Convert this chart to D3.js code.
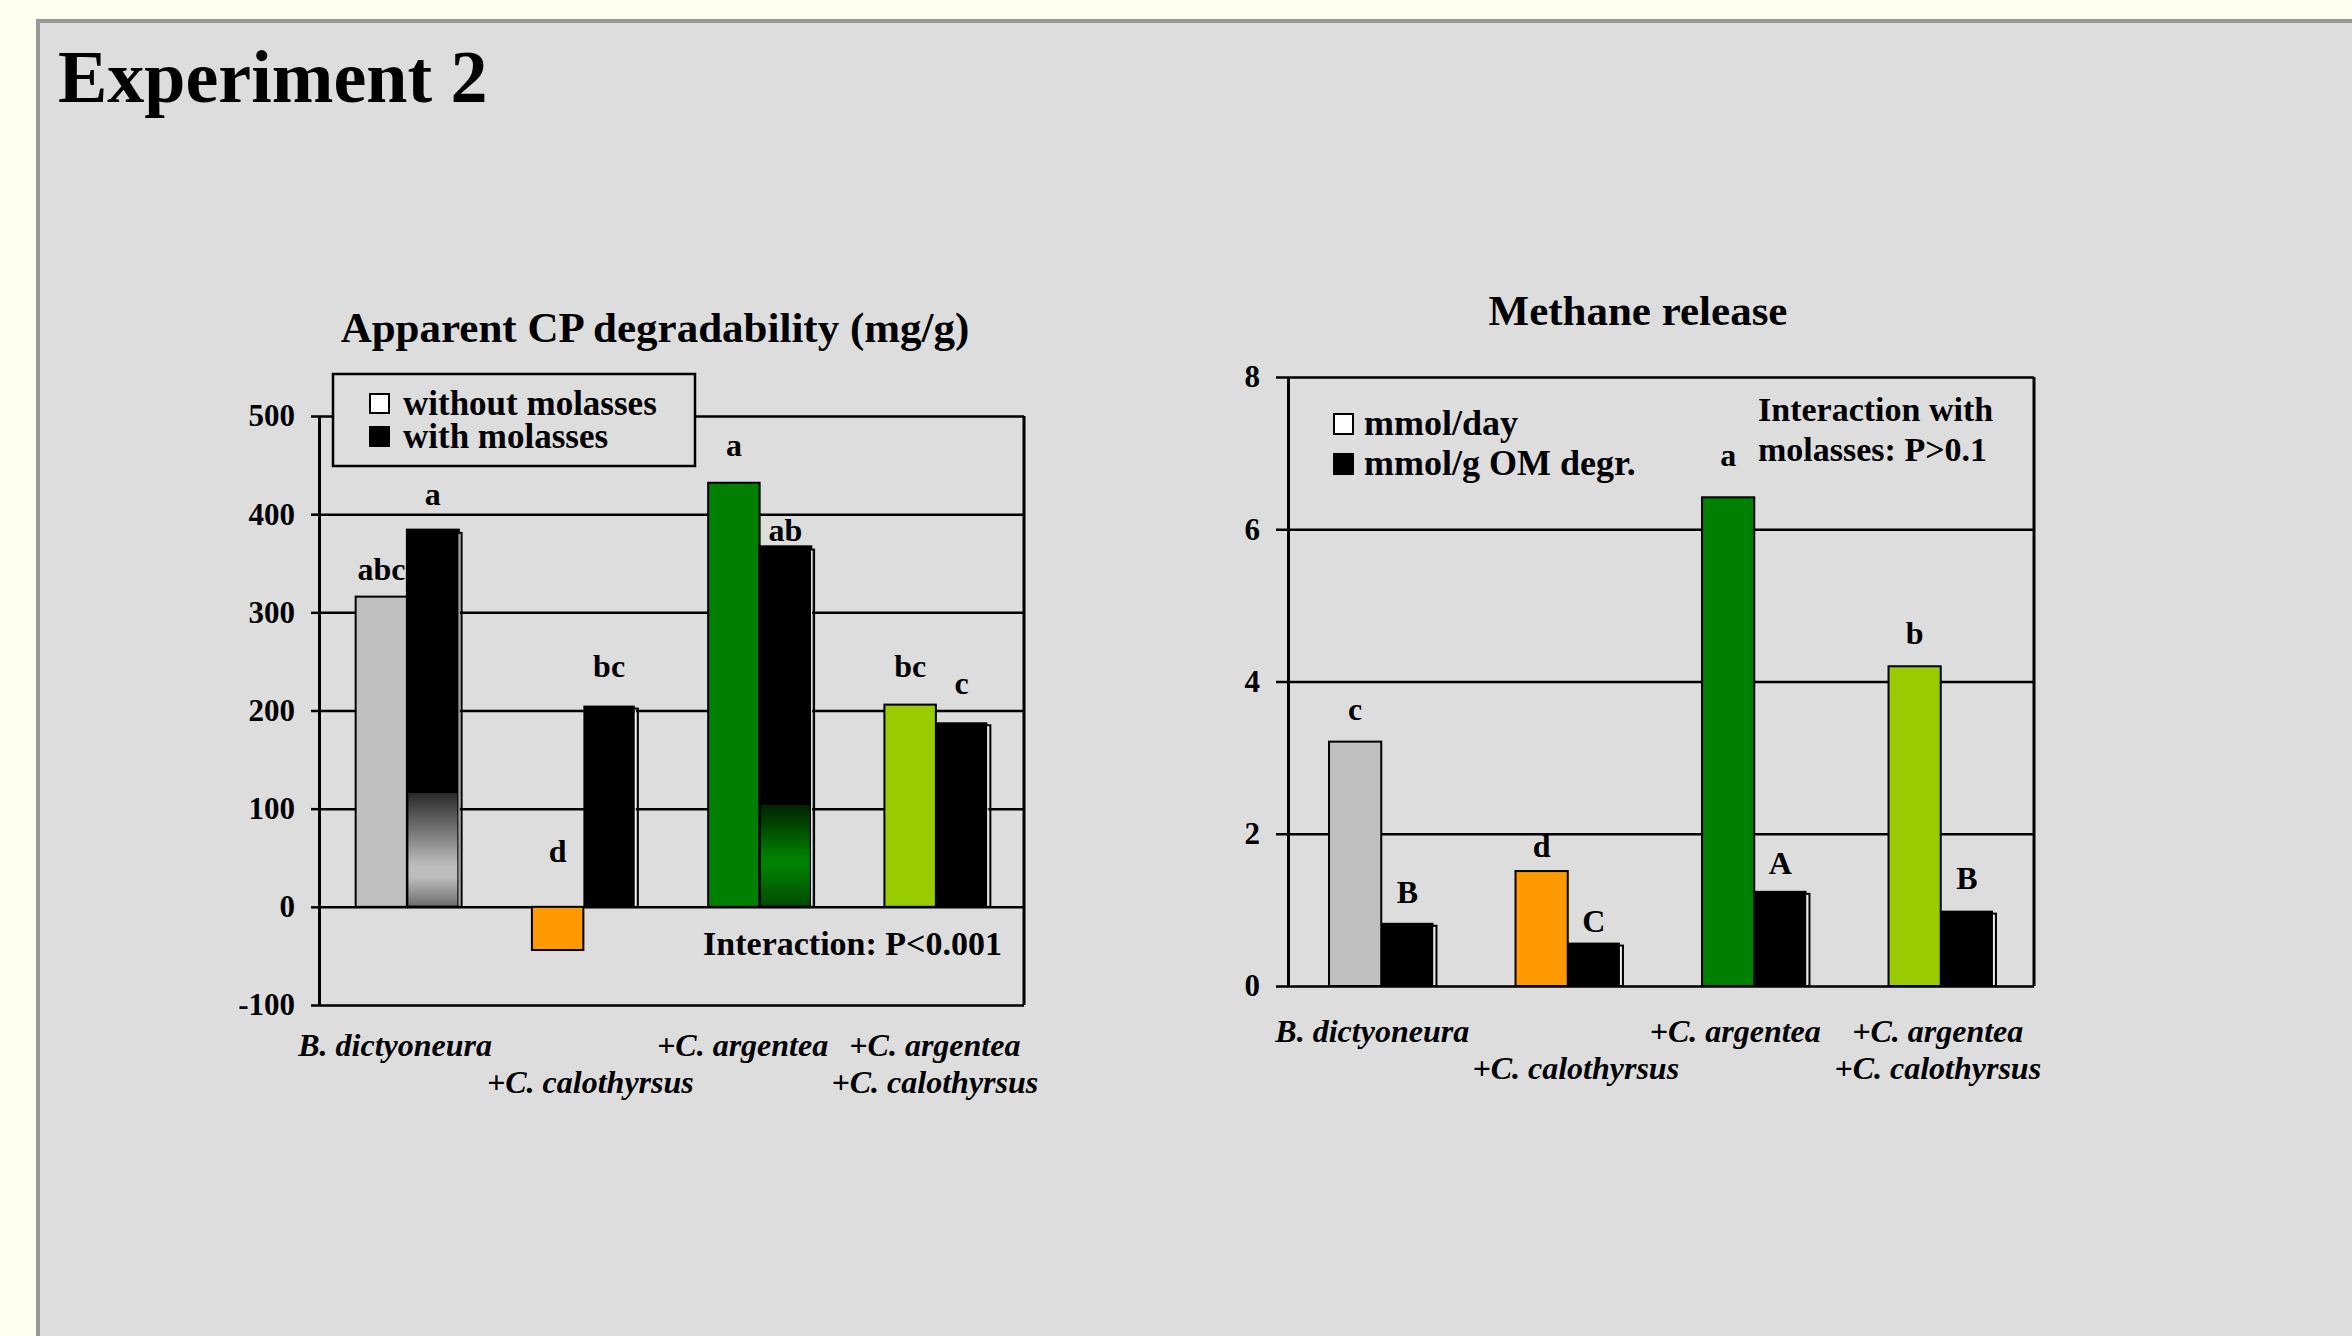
<!DOCTYPE html>
<html>
<head>
<meta charset="utf-8">
<script src="https://cdnjs.cloudflare.com/ajax/libs/d3/7.8.5/d3.min.js"></script>
<style>
body { margin: 0; background: #FFFFF0; }
svg { display: block; }
text { font-family: "Times New Roman", "Liberation Serif", serif; font-weight: bold; fill: #000; }
.tick text { font-size: 31px; }
.cat { font-size: 32px; font-style: italic; }
.letter { font-size: 32px; }
.legend { font-size: 35px; }
.note { font-size: 34px; }
.ctitle { font-size: 43px; }
</style>
</head>
<body>
<svg width="2352" height="1336"></svg>
<script>
// shared categories
var categories = ["B. dictyoneura", "+C. calothyrsus", "+C. argentea", "+C. argentea +C. calothyrsus"];
var catLines = [["B. dictyoneura", ""], ["", "+C. calothyrsus"], ["+C. argentea", ""], ["+C. argentea", "+C. calothyrsus"]];
var barColors = ["#C0C0C0", "#FF9900", "#008000", "#99CC00"];

// apparent CP degradability (mg/g)
var cpWithout = [316, -44, 432, 206];
var cpWith = [384, 205, 367, 188];
var cpLettersWithout = ["abc", "d", "a", "bc"];
var cpLettersWith = ["a", "bc", "ab", "c"];
var cpTicks = [-100, 0, 100, 200, 300, 400, 500];
var cpLegend = ["without molasses", "with molasses"];

// methane release
var chDay = [3.21, 1.51, 6.42, 4.20];
var chOM = [0.83, 0.57, 1.25, 0.99];
var chLettersDay = ["c", "d", "a", "b"];
var chLettersOM = ["B", "C", "A", "B"];
var chTicks = [0, 2, 4, 6, 8];
var chLegend = ["mmol/day", "mmol/g OM degr."];

var svg = d3.select("svg");
var defs = svg.append("defs");

// slide panel
svg.append("rect")
    .attr("x", 38).attr("y", 21)
    .attr("width", 2400).attr("height", 1400)
    .attr("fill", "#DDDDDD")
    .attr("stroke", "#999999")
    .attr("stroke-width", 4);

svg.append("text")
    .attr("x", 58).attr("y", 102)
    .style("font-size", "74px")
    .text("Experiment 2");

function drawChart(cfg) {
    var g = svg.append("g");
    var x = d3.scaleBand()
        .domain(categories)
        .range([cfg.x0, cfg.x1])
        .paddingInner(cfg.pad)
        .paddingOuter(cfg.pad / 2);
    var xs = d3.scaleBand()
        .domain(["without", "with"])
        .range([0, x.bandwidth()]);
    var y = d3.scaleLinear()
        .domain(d3.extent(cfg.ticks))
        .range([cfg.y0, cfg.y1]);

    // gridlines (top & bottom of the frame are gridlines too)
    var grid = g.append("g")
        .attr("transform", "translate(" + cfg.x0 + ",0)")
        .call(d3.axisLeft(y).tickValues(cfg.ticks).tickSize(-(cfg.x1 - cfg.x0)).tickFormat(""));
    grid.select(".domain").remove();
    grid.selectAll("line").attr("stroke", "#000").attr("stroke-width", 2.5);

    // right border
    g.append("line")
        .attr("x1", cfg.x1).attr("x2", cfg.x1)
        .attr("y1", y.range()[1]).attr("y2", y.range()[0])
        .attr("stroke", "#000").attr("stroke-width", 3);

    // gradient fills for the odd looking molasses bars
    cfg.fades.forEach(function(f, k) {
        var top = y(cfg.with[f.i]), bot = y(0);
        var off = function(v) { return (y(v) - top) / (bot - top); };
        var lg = defs.append("linearGradient")
            .attr("id", cfg.id + "fade" + k)
            .attr("x1", 0).attr("y1", 0).attr("x2", 0).attr("y2", 1);
        lg.append("stop").attr("offset", 0).attr("stop-color", "#000");
        lg.append("stop").attr("offset", off(f.from)).attr("stop-color", "#000");
        lg.append("stop").attr("offset", off(f.from) + 0.001).attr("stop-color", f.start);
        lg.append("stop").attr("offset", off(f.mid)).attr("stop-color", f.midColor);
        lg.append("stop").attr("offset", off(f.mid2)).attr("stop-color", f.midColor);
        lg.append("stop").attr("offset", 1).attr("stop-color", f.end);
        f.fill = "url(#" + cfg.id + "fade" + k + ")";
    });

    var bw = xs.bandwidth();
    categories.forEach(function(c, i) {
        // bar without molasses (coloured)
        var v = cfg.without[i];
        var bx = x(c) + xs("without");
        g.append("rect")
            .attr("x", bx).attr("y", y(Math.max(v, 0)))
            .attr("width", bw).attr("height", Math.abs(y(v) - y(0)))
            .attr("fill", barColors[i])
            .attr("stroke", "#000").attr("stroke-width", 2);

        // bar with molasses (black, with a little shadow)
        var w = cfg.with[i];
        var wx = x(c) + xs("with");
        var fade = cfg.fades.filter(function(f) { return f.i == i; })[0];
        g.append("rect")
            .attr("x", wx + 3).attr("y", y(w) + 3)
            .attr("width", bw).attr("height", y(0) - y(w) - 3)
            .attr("fill", "none")
            .attr("stroke", "#000").attr("stroke-width", 2);
        g.append("rect")
            .attr("x", wx).attr("y", y(w))
            .attr("width", bw).attr("height", y(0) - y(w))
            .attr("fill", fade ? fade.fill : "#000")
            .attr("stroke", "#000").attr("stroke-width", fade ? 2.5 : 0);
        g.append("line")
            .attr("x1", wx + bw + 0.5).attr("x2", wx + bw + 0.5)
            .attr("y1", y(w) + 4).attr("y2", y(0) - 1)
            .attr("stroke", "#f4f4f4").attr("stroke-width", 1);

        // significance letters
        g.append("text").attr("class", "letter")
            .attr("x", bx + bw / 2)
            .attr("y", y(Math.max(v, 0)) - cfg.liftWithout[i])
            .attr("text-anchor", "middle")
            .text(cfg.lettersWithout[i]);
        g.append("text").attr("class", "letter")
            .attr("x", wx + bw / 2)
            .attr("y", y(w) - cfg.liftWith[i])
            .attr("text-anchor", "middle")
            .text(cfg.lettersWith[i]);

        // category labels, two staggered rows
        catLines[i].forEach(function(line, r) {
            if (!line) return;
            g.append("text").attr("class", "cat")
                .attr("x", x(c) + x.bandwidth() / 2 + cfg.labelShift[i])
                .attr("y", cfg.labelY[r])
                .attr("text-anchor", "middle")
                .text(line);
        });
    });

    // y axis (plain hyphen for negatives, like the slide)
    var ax = g.append("g")
        .attr("transform", "translate(" + cfg.x0 + ",0)")
        .call(d3.axisLeft(y).tickValues(cfg.ticks).tickSize(cfg.tick).tickPadding(16).tickSizeOuter(0)
            .tickFormat(function(d) { return String(d); }));
    ax.attr("font-size", null).attr("font-family", null);
    ax.select(".domain").attr("stroke-width", 3);
    ax.selectAll(".tick line").attr("stroke-width", 2.5);

    // title
    g.append("text").attr("class", "ctitle")
        .attr("x", cfg.titleX).attr("y", cfg.titleY)
        .attr("text-anchor", "middle")
        .text(cfg.title);

    return {g: g, x: x, y: y};
}

var left = drawChart({
    id: "cp", x0: 319, x1: 1024, y0: 1005, y1: 416, pad: 0.416, tick: 8,
    ticks: cpTicks, without: cpWithout, with: cpWith,
    lettersWithout: cpLettersWithout, lettersWith: cpLettersWith,
    liftWithout: [17, 45, 27, 28], liftWith: [25, 29, 6, 28],
    labelShift: [-12, 7, -17, -1], labelY: [1056, 1093],
    title: "Apparent CP degradability (mg/g)", titleX: 655, titleY: 342,
    fades: [
        {i: 0, from: 116, start: "#2a2a2a", mid: 42, mid2: 30, midColor: "#bdbdbd", end: "#6a6a6a"},
        {i: 2, from: 104, start: "#002200", mid: 50, mid2: 40, midColor: "#008000", end: "#004a00"}
    ]
});

var right = drawChart({
    id: "ch", x0: 1288, x1: 2034, y0: 986, y1: 377, pad: 0.44, tick: 12,
    ticks: chTicks, without: chDay, with: chOM,
    lettersWithout: chLettersDay, lettersWith: chLettersOM,
    liftWithout: [22, 14, 31, 22], liftWith: [20, 11, 17, 22],
    labelShift: [-9, 8, -19, -3], labelY: [1042, 1079],
    title: "Methane release", titleX: 1638, titleY: 325,
    fades: []
});

// legend of the left chart, in a box over the frame
var lg = svg.append("g");
lg.append("rect")
    .attr("x", 333).attr("y", 374).attr("width", 362).attr("height", 92)
    .attr("fill", "#DDDDDD").attr("stroke", "#000").attr("stroke-width", 2.5);
cpLegend.forEach(function(t, k) {
    lg.append("rect")
        .attr("x", 370).attr("y", 394 + k * 33).attr("width", 19).attr("height", 19)
        .attr("fill", k ? "#000" : "#fff").attr("stroke", "#000").attr("stroke-width", 2);
    lg.append("text").attr("class", "legend")
        .attr("x", 403).attr("y", 415 + k * 33)
        .text(t);
});

left.g.append("text").attr("class", "note")
    .attr("x", 1002).attr("y", 955)
    .attr("text-anchor", "end")
    .text("Interaction: P<0.001");

// legend of the methane chart, no box
chLegend.forEach(function(t, k) {
    right.g.append("rect")
        .attr("x", 1334).attr("y", 414 + k * 40).attr("width", 19).attr("height", 20)
        .attr("fill", k ? "#000" : "#fff").attr("stroke", "#000").attr("stroke-width", 2);
    right.g.append("text").attr("class", "legend")
        .attr("x", 1364).attr("y", 435 + k * 40)
        .style("font-size", "36px")
        .text(t);
});

["Interaction with", "molasses: P>0.1"].forEach(function(t, k) {
    right.g.append("text")
        .attr("x", 1758).attr("y", 421 + k * 40)
        .style("font-size", "34px")
        .text(t);
});
</script>
</body>
</html>
